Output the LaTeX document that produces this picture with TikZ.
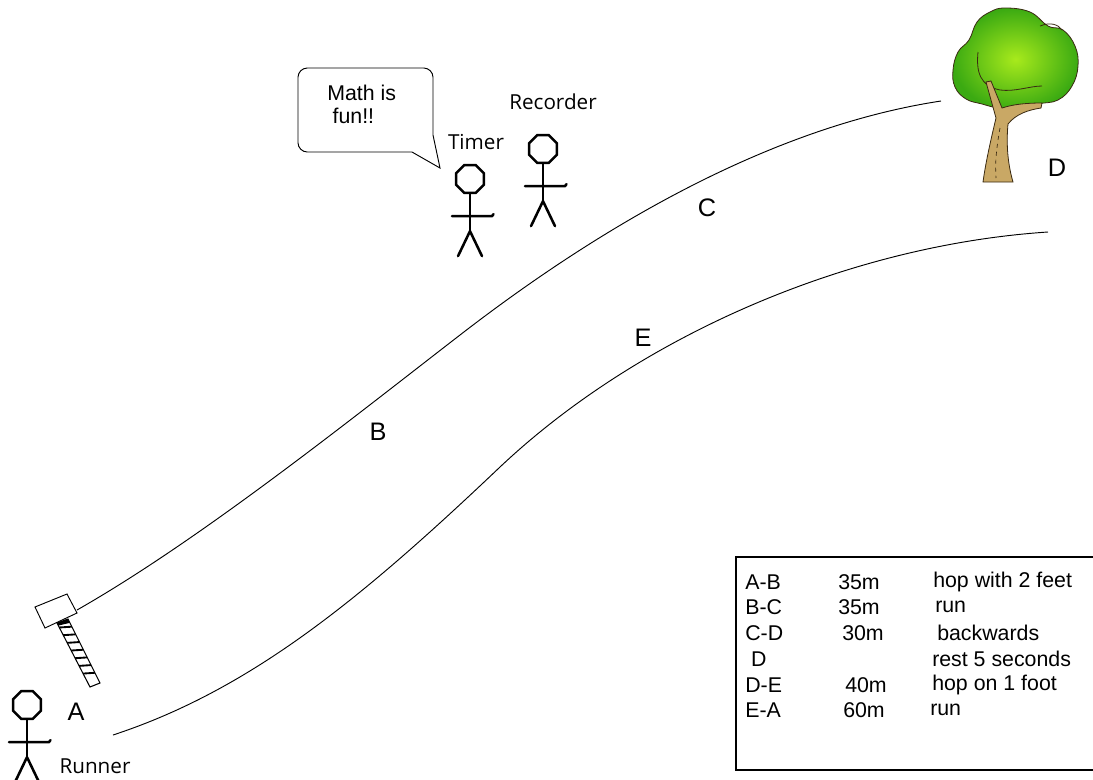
\documentclass[tikz,border=0pt]{standalone}
\usepackage{fontspec}
\setmainfont{Liberation Sans}
\newfontfamily\handfont{Open Sans}
\usetikzlibrary{calc, shapes.geometric}
\definecolor{leafLight}{HTML}{A8EA1C}
\definecolor{leafDark}{HTML}{3BAA12}
\definecolor{barkTan}{HTML}{C9A865}
\definecolor{barkDark}{HTML}{3A2A12}

\tikzset{
  track/.style={line width=0.7pt},
  stick/.style={line width=1.9pt, line cap=round, line join=round},
  head/.style={draw, line width=1.9pt, regular polygon, regular polygon sides=8,
    minimum size=22.5pt, inner sep=0pt},
  ptlabel/.style={font=\fontsize{19}{19}\selectfont, inner sep=0pt},
  handlabel/.style={font=\handfont\fontsize{15.5}{15.5}\selectfont, inner sep=0pt},
  cell/.style={anchor=west, inner sep=0pt, font=\fontsize{16}{16}\selectfont},
}

\begin{document}
\begin{tikzpicture}[x=0.75pt, y=-0.75pt]
  \useasboundingbox (0,0) rectangle (1093,779);

  % two edges of the course
  \draw[track] (77,610) .. controls (200,540) and (350,420) .. (460,335)
    .. controls (570,250) and (750,130) .. (941,101);
  \draw[track] (113,735) .. controls (250,690) and (360,600) .. (500,467)
    .. controls (640,335) and (850,245) .. (1048,232);

  % start block and ladder
  \draw[line width=0.7pt, fill=white] (35,607) -- (67,594) -- (77,613) -- (45,628) -- cycle;
  \coordinate (ltop) at (57,623);
  \coordinate (rtop) at (68,619);
  \coordinate (lbot) at (90,687);
  \coordinate (rbot) at (100,683);
  \draw[line width=0.8pt] (ltop) -- (lbot) -- (rbot) -- (rtop) -- cycle;
  \fill (ltop) -- (rtop) -- ($(rtop)!0.06!(rbot)$) -- ($(ltop)!0.04!(lbot)$) -- cycle;
  \foreach \t in {0.12,0.24,...,0.96}
    \draw[line width=1.4pt] ($(ltop)!\t-0.05!(lbot)$) -- ($(rtop)!\t!(rbot)$);

  % stick people
  \foreach \nm/\hx/\hy in {runner/27/705, timer/470/179, recorder/543/149} {
    \node[head] (\nm) at (\hx,\hy) {};
    \draw[stick] (\nm.south) -- ++(0,37) coordinate (\nm-hip);
    \draw[stick] ($(\nm.south)+(-18,22)$) -- ++(40,0) -- ++(1.5,-2);
    \draw[stick] ($(\nm-hip)+(-12,25)$) -- (\nm-hip) -- ++(12,25);
  }
  \node[handlabel] (runnerlbl) at (95,766) {Runner};
  \node[handlabel] (timerlbl) at (476,142) {Timer};
  \node[handlabel] (recorderlbl) at (553,102) {Recorder};

  % speech bubble
  \draw[line width=0.7pt] (412,152) [rounded corners=7] -- (298,152) -- (298,68)
    -- (433,68) [sharp corners] -- (433,135) -- (440,168) -- cycle;
  \node[align=left, font=\fontsize{16}{17}\selectfont, inner sep=0pt, anchor=north west]
    (bubbletxt) at (327,85) {Math is\\[0pt]\hspace{4pt}fun!!};

  % tree
  \shade[inner color=leafLight, outer color=leafDark, draw=barkDark, line width=0.6pt]
    plot[smooth cycle, tension=0.7] coordinates
    {(1005,8) (1030,12) (1048,26) (1063,30) (1075,46) (1078,66) (1072,86)
     (1058,100) (1038,104) (1018,110) (998,108) (982,104) (966,99) (955,87)
     (953,70) (958,52) (969,40) (977,22) (990,12)};
  \draw[barkDark, line width=0.6pt] (978,52) .. controls (976,72) and (980,86) .. (1000,90)
    .. controls (1015,92) and (1030,86) .. (1042,86);
  \draw[barkDark, line width=0.6pt] (1040,26) .. controls (1050,22) and (1058,24) .. (1062,30);
  \filldraw[fill=barkTan, draw=barkDark, line width=0.6pt]
    (983,182) .. controls (986,160) and (992,135) .. (996,118)
    -- (986,82) -- (991,81) -- (1002,108)
    .. controls (1014,104) and (1028,103) .. (1042,103)
    -- (1041,108) .. controls (1028,110) and (1016,114) .. (1008,124)
    .. controls (1006,145) and (1008,165) .. (1013,182) -- cycle;
  \draw[barkDark, line width=0.5pt, dashed] (1000,128) .. controls (996,150) and (995,165) .. (996,178);

  % point labels
  \node[ptlabel] (ptA) at (76,712) {A};
  \node[ptlabel] (ptB) at (378,432) {B};
  \node[ptlabel] (ptC) at (707,208) {C};
  \node[ptlabel] (ptD) at (1057,168) {D};
  \node[ptlabel] (ptE) at (643,338) {E};

  % legend table
  \draw[line width=0.8pt] (736,557) rectangle (1100,770);
  \foreach \y/\a/\b/\bx/\c/\cx in
    {582/A-B/35m/838/hop with 2 feet/933,
     607/B-C/35m/838/run/935,
     633/C-D/30m/842/backwards/937,
     659/\ D//842/rest 5 seconds/932,
     685/D-E/40m/845/hop on 1 foot/932,
     710/E-A/60m/843/run/930}
  {
    \node[cell] at (745,\y) {\a};
    \node[cell] at (\bx,\y) {\b};
    \node[cell] at (\cx,\y) {\c};
  }
\end{tikzpicture}
\end{document}
